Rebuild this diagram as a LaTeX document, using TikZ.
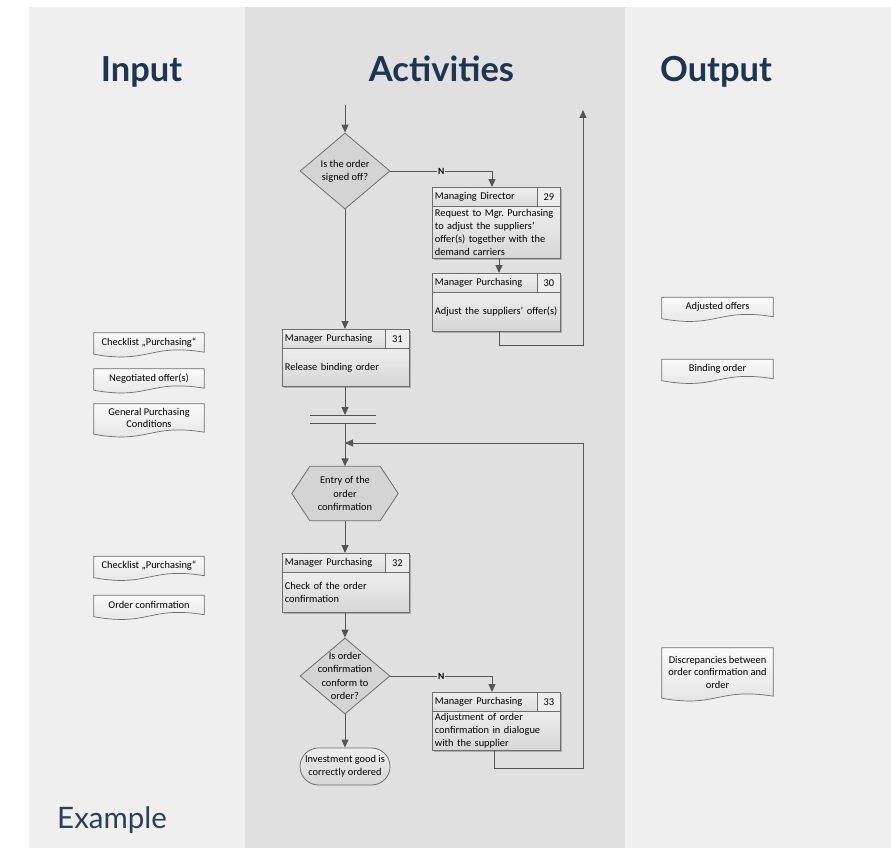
\documentclass[tikz,border=0pt]{standalone}
\usepackage{fontspec}
\setmainfont{Carlito}
\newfontfamily\headfont{Lato}
\usetikzlibrary{arrows.meta,calc,shapes.geometric,shapes.misc,shadows}
\definecolor{bgin}{HTML}{EFEFEF}
\definecolor{bgact}{HTML}{E0E0E0}
\definecolor{navy}{HTML}{1E3550}
\definecolor{exnavy}{HTML}{2B4058}
\definecolor{lineg}{HTML}{555555}
\definecolor{boxg}{HTML}{6E6E6E}
\definecolor{hdA}{HTML}{EDEDED}
\definecolor{hdB}{HTML}{DCDCDC}
\definecolor{bdA}{HTML}{EEEEEE}
\definecolor{bdB}{HTML}{D6D6D6}
\definecolor{diag}{HTML}{D4D4D4}
\definecolor{docA}{HTML}{FAFAFA}
\definecolor{docB}{HTML}{E2E2E2}
\newcommand\docshape[1]{%
  \path[docst] (#1.north west) -- (#1.north east) -- (#1.south east)
    .. controls ($(#1.south)+(0,-9)$) and ($(#1.south)+(0,12)$) .. ($(#1.south west)+(0,2)$) -- cycle;}
\frenchspacing
\begin{document}
\begin{tikzpicture}[x=1pt,y=-1pt,
  font=\fontsize{10.4}{13.3}\selectfont,
  conn/.style={draw=lineg, line width=1pt},
  arr/.style={conn, -{Triangle[length=8pt,width=7pt]}},
  shad/.style={drop shadow={shadow xshift=1.5pt,shadow yshift=-1.5pt,opacity=0.22,fill=black}},
  thead/.style={draw=boxg, line width=0.8pt, top color=hdA, bottom color=hdB, anchor=north west,
    minimum height=19, inner xsep=2.5, inner ysep=0, text width=#1, align=left, shad},
  tnum/.style={draw=boxg, line width=0.8pt, fill=hdA, anchor=north west,
    minimum width=#1, minimum height=19, inner sep=0, shad},
  tbody/.style={draw=boxg, line width=0.8pt, top color=bdA, bottom color=bdB, anchor=north west,
    inner xsep=2.5, inner ysep=0, text width=#1, align=left, shad},
  dia/.style={diamond, draw=boxg, line width=0.8pt, fill=diag, minimum width=90, minimum height=76, inner sep=0, aspect=1.18},
  dtext/.style={align=center, inner sep=0},
  docnode/.style={minimum height=#1, align=center, inner sep=1},
  docst/.style={draw=boxg, line width=0.7pt, top color=docA, bottom color=docB},
  head/.style={font=\headfont\bfseries\fontsize{34.5}{34.5}\selectfont, text=navy, anchor=base, inner sep=0},
  nlab/.style={fill=bgact, inner sep=0.6pt, font=\bfseries\fontsize{9.5}{9.5}\selectfont}
]
\useasboundingbox (0,0) rectangle (891,848);
% background panels
\fill[white] (0,0) rectangle (891,848);
\fill[bgin] (29,7) rectangle (245,848);
\fill[bgact] (245,7) rectangle (625,848);
\fill[bgin] (625,7) rectangle (891,848);

% headings
\node[head] (hin) at (141.5,82) {Input};
\node[head] (hact) at (441.5,82) {Activities};
\node[head] (hout) at (716,82) {Output};
\node[font=\headfont\fontsize{29.5}{29.5}\selectfont, text=exnavy, anchor=base west, inner sep=0] (ex) at (57,828) {Example};

% first decision
\coordinate (start) at (345,105);
\node[dia] (d1) at (345,171) {};
\node[dtext] (d1t) at (d1) {Is the order\\signed off?};
\draw[arr] (start) -- (d1.north);

% box 29
\node[thead=100] (t29h) at (432,187) {Managing Director};
\node[tnum=23] (t29n) at (537,187) {29};
\node[tbody=123, minimum height=52] (t29b) at (432,206) {Request to Mgr. Purchasing\\to adjust the suppliers’\\offer(s) together with the\\demand carriers};
% box 30
\node[thead=100] (t30h) at (432,273) {Manager Purchasing};
\node[tnum=23] (t30n) at (537,273) {30};
\node[tbody=123, minimum height=39] (t30b) at (432,292) {Adjust the suppliers’ offer(s)};

\coordinate (n1) at (492,171);
\draw[conn] (d1.east) -- node[nlab] (nl1) {N} (n1);
\draw[arr] (n1) -- (n1 |- t29h.north);
\coordinate (c29) at (499,258);
\draw[arr] (c29) -- (c29 |- t30h.north);
\coordinate (c30) at (499,331);
\coordinate (ex1) at (583,345);
\coordinate (exit) at (583,110);
\draw[arr] (c30) |- (ex1) -- (exit);

% box 31
\node[thead=98] (t31h) at (282,329) {Manager Purchasing};
\node[tnum=24] (t31n) at (385,329) {31};
\node[tbody=122, minimum height=38] (t31b) at (282,348) {Release binding order};
\draw[arr] (d1.south) -- (d1.south |- t31h.north);

% synchronisation bar
\coordinate (s1l) at (310,415);
\coordinate (s1r) at (376,415);
\coordinate (s2l) at (310,423);
\coordinate (s2r) at (376,423);
\draw[conn] (s1l) -- (s1r);
\draw[conn] (s2l) -- (s2r);
\draw[arr] (t31b.south -| start) -- (start |- s1l);

% hexagon
\node[minimum width=106, minimum height=54, inner sep=0] (hx) at (345,493.5) {};
\path[draw=boxg, line width=0.8pt, fill=diag] (hx.west) -- ($(hx.north west)+(18,0)$) -- ($(hx.north east)+(-18,0)$) -- (hx.east) -- ($(hx.south east)+(-18,0)$) -- ($(hx.south west)+(18,0)$) -- cycle;
\node[dtext] (hxt) at (hx) {Entry of the\\order\\confirmation};
\draw[arr] (start |- s2l) -- (hx.north);

% box 32
\node[thead=98] (t32h) at (282,553) {Manager Purchasing};
\node[tnum=24] (t32n) at (385,553) {32};
\node[tbody=122, minimum height=40] (t32b) at (282,572) {Check of the order\\confirmation};
\draw[arr] (hx.south) -- (hx.south |- t32h.north);

% second decision
\node[dia] (d2) at (345,676) {};
\node[dtext] (d2t) at (d2) {Is order\\confirmation\\conform to\\order?};
\draw[arr] (t32b.south -| d2.north) -- (d2.north);

% box 33
\node[thead=100] (t33h) at (432,692) {Manager Purchasing};
\node[tnum=23] (t33n) at (537,692) {33};
\node[tbody=123, minimum height=39] (t33b) at (432,711) {Adjustment of order\\confirmation in dialogue\\with the supplier};
\coordinate (n2) at (492,676);
\draw[conn] (d2.east) -- node[nlab] (nl2) {N} (n2);
\draw[arr] (n2) -- (n2 |- t33h.north);

% loop back
\coordinate (c33) at (494,750);
\coordinate (lb1) at (583,768);
\coordinate (lb2) at (583,443);
\coordinate (lb3) at (345,443);
\draw[arr] (c33) |- (lb1) -- (lb2) -- (lb3);

% terminal
\node[rounded rectangle, draw=boxg, line width=0.8pt, top color=bdA, bottom color=bdB, minimum width=90, minimum height=37, inner sep=0, align=center] (end) at (345,766.5) {Investment good is\\correctly ordered};
\draw[arr] (d2.south) -- (end.north);

% input documents
\node[docnode=19, minimum width=110] (in1) at (149,342.5) {};
\docshape{in1}
\node[inner sep=0] at (in1) {Checklist „Purchasing“};
\node[docnode=19, minimum width=110] (in2) at (149,378.5) {};
\docshape{in2}
\node[inner sep=0] at (in2) {Negotiated offer(s)};
\node[docnode=28, minimum width=110] (in3) at (149,418) {};
\docshape{in3}
\node[inner sep=0, align=center, font=\fontsize{10.4}{12}\selectfont] at (in3) {General Purchasing\\Conditions};
\node[docnode=19, minimum width=110] (in4) at (149,566) {};
\docshape{in4}
\node[inner sep=0] at (in4) {Checklist „Purchasing“};
\node[docnode=19, minimum width=110] (in5) at (149,605) {};
\docshape{in5}
\node[inner sep=0] at (in5) {Order confirmation};

% output documents
\node[docnode=19, minimum width=111] (out1) at (717.5,307) {};
\docshape{out1}
\node[inner sep=0] at (out1) {Adjusted offers};
\node[docnode=19, minimum width=111] (out2) at (717.5,369) {};
\docshape{out2}
\node[inner sep=0] at (out2) {Binding order};
\node[docnode=48, minimum width=111] (out3) at (717.5,672) {};
\docshape{out3}
\node[inner sep=0, align=center, font=\fontsize{10.4}{12.5}\selectfont] at (out3) {Discrepancies between\\order confirmation and\\order};
\end{tikzpicture}
\end{document}
